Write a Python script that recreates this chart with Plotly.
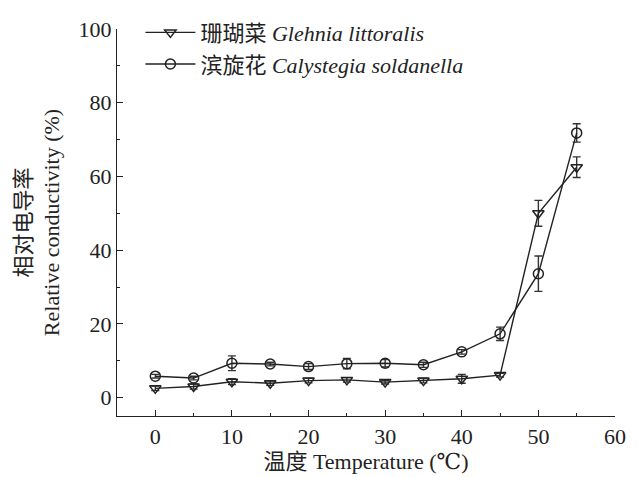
import plotly.graph_objects as go

temps = [0, 5, 10, 15, 20, 25, 30, 35, 40, 45, 50, 55]
glehnia = [2.5, 3.0, 4.3, 3.9, 4.6, 4.8, 4.2, 4.6, 5.1, 6.1, 50.0, 62.5]
glehnia_err = [0.6, 0.7, 0.8, 0.6, 0.6, 0.6, 0.5, 0.6, 1.2, 0.5, 3.5, 2.8]
calystegia = [5.8, 5.3, 9.3, 9.1, 8.4, 9.2, 9.3, 8.9, 12.4, 17.3, 33.6, 71.8]
calystegia_err = [0.5, 0.5, 2.0, 0.5, 0.8, 1.4, 1.0, 0.7, 0.6, 1.8, 4.8, 2.5]

it = "<span style='font-family:\"Liberation Serif\",\"DejaVu Serif\",serif;font-style:italic'>{}</span>"
name_g = "珊瑚菜 " + it.format("Glehnia littoralis")
name_c = "滨旋花 " + it.format("Calystegia soldanella")

fig = go.Figure()
for y, err, sym, name in [
    (glehnia, glehnia_err, "triangle-down-open", name_g),
    (calystegia, calystegia_err, "circle-open", name_c),
]:
    fig.add_trace(go.Scatter(
        x=temps, y=y, name=name, mode="lines+markers",
        line=dict(color="#222", width=1.4),
        marker=dict(symbol=sym, size=10, color="#222", line=dict(width=1.5, color="#222")),
        error_y=dict(type="data", array=err, visible=True, color="#333", thickness=1.4, width=4),
    ))

font_main = "Liberation Serif, DejaVu Serif, Noto Sans CJK SC, serif"
axis_common = dict(
    showline=True, linecolor="#222", linewidth=1.4, mirror=False,
    ticks="inside", ticklen=6, tickwidth=1.3, tickcolor="#222",
    showgrid=False, zeroline=False, automargin=False,
    tickfont=dict(family=font_main, size=22, color="#222"),
)
fig.update_layout(
    width=638, height=477,
    margin=dict(l=117, r=23, t=18, b=61),
    paper_bgcolor="white", plot_bgcolor="white",
    font=dict(family=font_main, size=22, color="#222"),
    xaxis=dict(range=[-5, 60], dtick=10, tick0=0,
               minor=dict(ticks="inside", ticklen=3, dtick=5, tick0=5, tickcolor="#222", tickwidth=1.2),
               title=dict(text="温度 Temperature (℃)", font=dict(size=22), standoff=2),
               **axis_common),
    yaxis=dict(range=[-5, 100], dtick=20, tick0=0,
               minor=dict(ticks="inside", ticklen=3, dtick=10, tick0=10, tickcolor="#222", tickwidth=1.2),
               title=dict(text="相对电导率<br>Relative conductivity (%)", font=dict(size=22), standoff=12),
               **axis_common),
    legend=dict(x=0.047, y=1.045, xanchor="left", yanchor="top", bgcolor="rgba(0,0,0,0)",
                font=dict(size=22), tracegroupgap=0, itemwidth=50),
    showlegend=True,
)
fig.write_html("out.html", config={"displayModeBar": False},
               post_script="document.body.style.margin='0';document.body.style.overflow='hidden';")
